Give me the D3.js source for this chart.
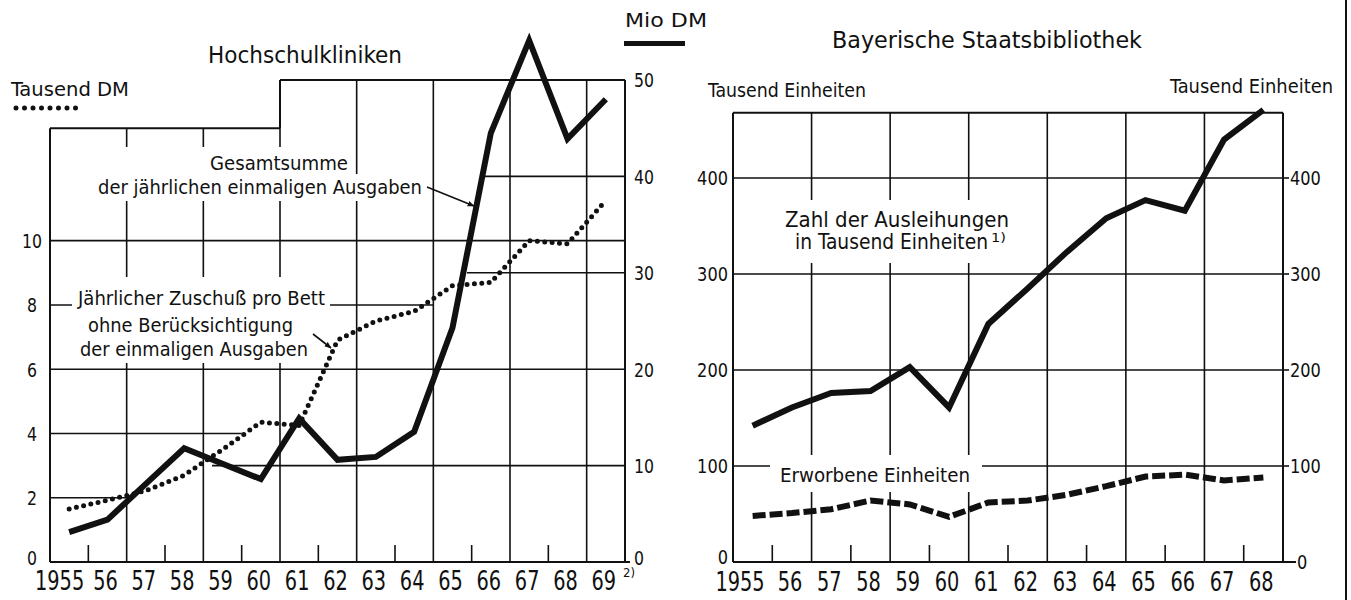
<!DOCTYPE html>
<html>
<head>
<meta charset="utf-8">
<script src="https://cdn.jsdelivr.net/npm/d3@7"></script>
<style>
  body { margin: 0; background: #fff; }
  text { font-family: "Liberation Sans Narrow", "DejaVu Sans Condensed", sans-serif; fill: #111; }
</style>
</head>
<body>
<svg id="chart" width="1351" height="600"></svg>
<script>
// ---- data ----
const yearsL = ["1955","56","57","58","59","60","61","62","63","64","65","66","67","68","69"];
const zuschussProBett = [1.65, 1.92, 2.22, 2.7, 3.5, 4.35, 4.25, 6.9, 7.5, 7.8, 8.6, 8.7, 10.0, 9.9, 11.25]; // Tausend DM
const einmaligeAusgaben = [3.1, 4.4, 8.1, 11.8, 10.2, 8.6, 14.9, 10.6, 10.9, 13.5, 24.3, 44.5, 54.1, 43.9, 48.0]; // Mio DM
const ticksTausendDM = [0, 2, 4, 6, 8, 10];
const ticksMioDM = [0, 10, 20, 30, 40, 50];

const yearsR = ["1955","56","57","58","59","60","61","62","63","64","65","66","67","68"];
const ausleihungen = [142, 161, 176, 178, 203, 161, 248, 285, 323, 358, 377, 366, 440, 471]; // Tausend Einheiten
const erworbene = [48, 51, 55, 64, 60, 47, 62, 64, 70, 79, 89, 91, 85, 88];
const ticksEinheiten = [0, 100, 200, 300, 400];

const svg = d3.select("#chart");
const ink = "#111";

function grid(g, x1, y1, x2, y2, w) {
  g.append("line").attr("x1", x1).attr("y1", y1).attr("x2", x2).attr("y2", y2)
    .attr("stroke", ink).attr("stroke-width", w || 1.6);
}
function label(g, txt, x, y, size, width, anchor) {
  const t = g.append("text").attr("x", x).attr("y", y)
    .attr("font-size", size).attr("text-anchor", anchor || "start").text(txt);
  if (width) t.attr("textLength", width).attr("lengthAdjust", "spacingAndGlyphs");
  return t;
}
function blank(g, x, y, w, h) {
  g.append("rect").attr("x", x).attr("y", y).attr("width", w).attr("height", h).attr("fill", "#fff");
}

svg.append("defs").append("marker")
  .attr("id", "arrow").attr("viewBox", "0 0 10 10").attr("refX", 9).attr("refY", 5)
  .attr("markerWidth", 7).attr("markerHeight", 7).attr("orient", "auto")
  .attr("markerUnits", "userSpaceOnUse")
  .append("path").attr("d", "M0,1 L10,5 L0,9 z").attr("fill", ink);

// ================= left chart: Hochschulkliniken =================
const L = svg.append("g");
const xL = d3.scaleBand().domain(yearsL).range([50, 625]);
const yT = d3.scaleLinear().domain([0, 15]).range([562, 80]);   // Tausend DM
const yM = d3.scaleLinear().domain([0, 50]).range([562, 80]);   // Mio DM
const bL = k => xL.range()[0] + k * xL.step();
const topLeft = yT(13.5);

// horizontal grid pieces
grid(L, bL(0), yT(10), bL(15), yT(10));
grid(L, bL(0), yT(8), bL(10), yT(8));
grid(L, bL(0), yT(6), bL(15), yT(6));
grid(L, bL(0), yT(4), bL(5), yT(4));
grid(L, bL(0), yT(2), bL(2), yT(2));
grid(L, 484, yM(40), bL(15), yM(40));
grid(L, 467, yM(30), bL(15), yM(30));
grid(L, 212, yM(10), bL(15), yM(10));
// stepped top frame
grid(L, bL(0), topLeft, bL(6), topLeft, 2);
grid(L, bL(6), topLeft, bL(6), yM(50), 2);
grid(L, bL(6), yM(50), bL(15), yM(50), 2);
// verticals
d3.range(0, 16).forEach(k => {
  if (k % 2 === 0 || k === 15) {
    const top = k < 6 ? topLeft : yM(50);
    grid(L, bL(k), 562, bL(k), top, (k === 0 || k === 15) ? 2 : 1.6);
  } else {
    grid(L, bL(k), 562, bL(k), 545);
  }
});
grid(L, bL(0), 562, 630, 562, 2.2);

// annotation backgrounds
blank(L, 96, 147, 254, 28);
blank(L, 96, 174, 330, 27);
blank(L, 72, 277, 258, 86);

// axes labels
const axL = L.append("g").attr("transform", `translate(${bL(0)},0)`)
  .call(d3.axisLeft(yT).tickValues(ticksTausendDM).tickSize(0));
axL.select(".domain").remove();
axL.selectAll("text").attr("x", -18).attr("text-anchor", "middle").attr("font-size", 19)
  .attr("font-family", null).attr("dy", "0.36em").attr("y", d => d === 0 ? -4 : 0)
  .attr("textLength", d => String(d).length * 10).attr("lengthAdjust", "spacingAndGlyphs");

const axLR = L.append("g").attr("transform", `translate(${bL(15)},0)`)
  .call(d3.axisRight(yM).tickValues(ticksMioDM).tickSize(0));
axLR.select(".domain").remove();
axLR.selectAll("text").attr("x", 9).attr("font-size", 19).attr("font-family", null)
  .attr("dy", "0.36em").attr("y", d => d === 0 ? -4 : 0)
  .attr("textLength", d => String(d).length * 10).attr("lengthAdjust", "spacingAndGlyphs");

const axLB = L.append("g").attr("transform", "translate(0,562)")
  .call(d3.axisBottom(xL).tickSize(0));
axLB.select(".domain").remove();
axLB.selectAll("text").attr("y", 28).attr("dy", 0).attr("font-size", 26).attr("font-family", null)
  .attr("x", d => d === "1955" ? 15 : -2)
  .attr("text-anchor", d => d === "1955" ? "end" : "middle")
  .attr("textLength", d => d.length * 12.3).attr("lengthAdjust", "spacingAndGlyphs");
label(L, "2)", 623, 577, 12, 12);

// texts
label(L, "Hochschulkliniken", 208, 63, 23, 194);
label(L, "Tausend DM", 11, 96, 20, 118);
label(L, "Mio DM", 625, 27, 20, 82);
L.append("rect").attr("x", 624).attr("y", 41).attr("width", 61).attr("height", 5).attr("fill", ink);
L.append("line").attr("x1", 16).attr("x2", 76).attr("y1", 108).attr("y2", 108)
  .attr("stroke", ink).attr("stroke-width", 5).attr("stroke-linecap", "round")
  .attr("stroke-dasharray", "0,8.5");

label(L, "Gesamtsumme", 210, 170, 19, 138);
label(L, "der jährlichen einmaligen Ausgaben", 98, 194, 19, 324);
L.append("line").attr("x1", 427).attr("y1", 187).attr("x2", 474).attr("y2", 206)
  .attr("stroke", ink).attr("stroke-width", 1.6).attr("marker-end", "url(#arrow)");

label(L, "Jährlicher Zuschuß pro Bett", 78, 305, 19, 247);
label(L, "ohne Berücksichtigung", 88, 332, 19, 205);
label(L, "der einmaligen Ausgaben", 80, 356, 19, 228);
L.append("line").attr("x1", 313).attr("y1", 334).attr("x2", 331).attr("y2", 348)
  .attr("stroke", ink).attr("stroke-width", 1.6).attr("marker-end", "url(#arrow)");

// series
const cx = d => xL(d) + xL.bandwidth() / 2;
L.append("path")
  .attr("d", d3.line().x((d, i) => cx(yearsL[i])).y(d => yT(d))(zuschussProBett))
  .attr("fill", "none").attr("stroke", ink).attr("stroke-width", 5)
  .attr("stroke-linecap", "round").attr("stroke-dasharray", "0,7.4");
L.append("path")
  .attr("d", d3.line().x((d, i) => cx(yearsL[i])).y(d => yM(d))(einmaligeAusgaben))
  .attr("fill", "none").attr("stroke", ink).attr("stroke-width", 6)
  .attr("stroke-linejoin", "miter").attr("stroke-miterlimit", 6);

// ================= right chart: Bayerische Staatsbibliothek =================
const R = svg.append("g");
const xR = d3.scaleBand().domain(yearsR).range([733, 1283]);
const yR = d3.scaleLinear().domain([0, 400]).range([562, 178]);
const bR = k => xR.range()[0] + k * xR.step();
const topR = yR(468);

ticksEinheiten.filter(v => v > 0).forEach(v => grid(R, bR(0), yR(v), bR(14), yR(v)));
grid(R, bR(0), topR, bR(14), topR, 2);
d3.range(0, 15).forEach(k => {
  if (k % 2 === 0) grid(R, bR(k), 562, bR(k), topR, (k === 0 || k === 14) ? 2 : 1.6);
  else grid(R, bR(k), 562, bR(k), 545);
});
grid(R, bR(0), 562, bR(14) + 13, 562, 2.2);
ticksEinheiten.filter(v => v > 0).forEach(v => grid(R, bR(14), yR(v), bR(14) + 6, yR(v)));

blank(R, 780, 200, 232, 63);
blank(R, 770, 455, 212, 37);

const axR = R.append("g").attr("transform", `translate(${bR(0)},0)`)
  .call(d3.axisLeft(yR).tickValues(ticksEinheiten).tickSize(0));
axR.select(".domain").remove();
axR.selectAll("text").attr("x", -5).attr("font-size", 19).attr("font-family", null)
  .attr("dy", "0.36em").attr("y", d => d === 0 ? -5 : 0)
  .attr("textLength", d => String(d).length * 10.3).attr("lengthAdjust", "spacingAndGlyphs");

const axRR = R.append("g").attr("transform", `translate(${bR(14)},0)`)
  .call(d3.axisRight(yR).tickValues(ticksEinheiten).tickSize(0));
axRR.select(".domain").remove();
axRR.selectAll("text").attr("x", d => d === 0 ? 14 : 7).attr("font-size", 19).attr("font-family", null)
  .attr("dy", "0.36em")
  .attr("textLength", d => String(d).length * 10.3).attr("lengthAdjust", "spacingAndGlyphs");

const axRB = R.append("g").attr("transform", "translate(0,562)")
  .call(d3.axisBottom(xR).tickSize(0));
axRB.select(".domain").remove();
axRB.selectAll("text").attr("y", 29).attr("dy", 0).attr("font-size", 26).attr("font-family", null)
  .attr("x", d => d === "1955" ? 12 : -2)
  .attr("text-anchor", d => d === "1955" ? "end" : "middle")
  .attr("textLength", d => d.length * 12.3).attr("lengthAdjust", "spacingAndGlyphs");

label(R, "Bayerische Staatsbibliothek", 832, 48, 23, 310);
label(R, "Tausend Einheiten", 708, 97, 20, 158);
label(R, "Tausend Einheiten", 1170, 93, 20, 163);
label(R, "Zahl der Ausleihungen", 785, 227, 21, 224);
label(R, "in Tausend Einheiten", 795, 249, 21, 193);
label(R, "1)", 991, 242, 12, 15);
label(R, "Erworbene Einheiten", 780, 482, 20, 190);

const cxR = d => xR(d) + xR.bandwidth() / 2;
R.append("path")
  .attr("d", d3.line().x((d, i) => cxR(yearsR[i])).y(d => yR(d))(ausleihungen))
  .attr("fill", "none").attr("stroke", ink).attr("stroke-width", 6)
  .attr("stroke-linejoin", "miter").attr("stroke-miterlimit", 6);
R.append("path")
  .attr("d", d3.line().x((d, i) => cxR(yearsR[i])).y(d => yR(d))(erworbene))
  .attr("fill", "none").attr("stroke", ink).attr("stroke-width", 6)
  .attr("stroke-dasharray", "13,4");

// scan edge at the far right
grid(svg, 1346, 0, 1346, 600, 2);
</script>
</body>
</html>
